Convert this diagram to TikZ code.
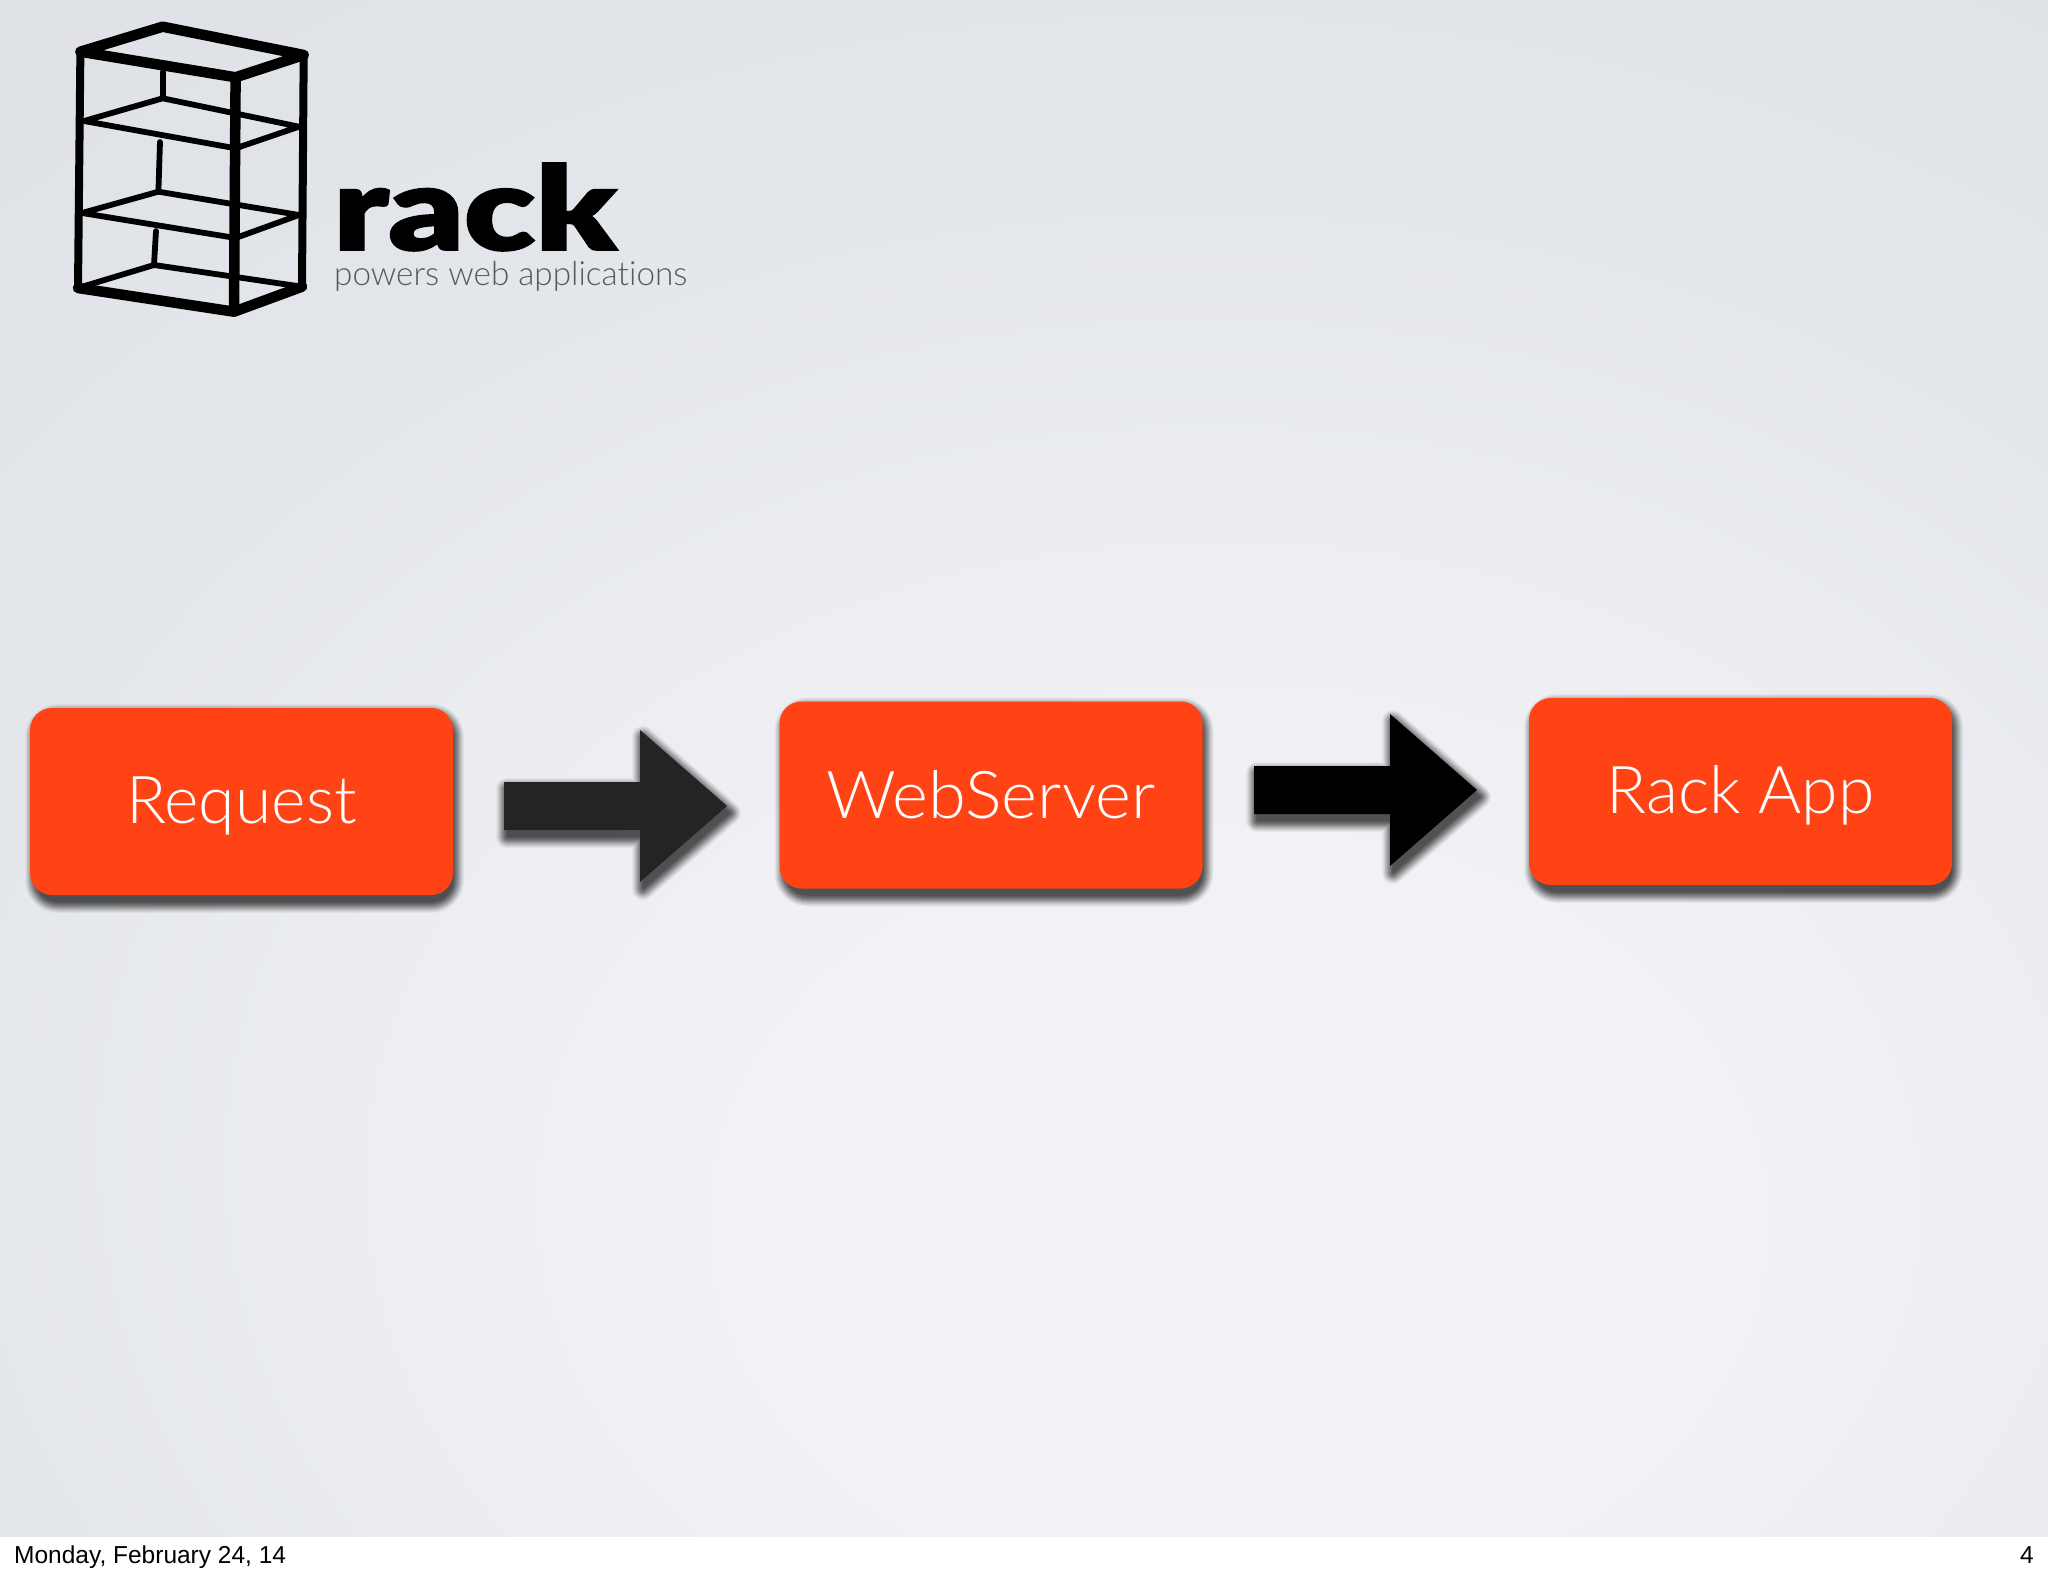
\documentclass[tikz,border=0pt]{standalone}
\usepackage{fontspec}
\setmainfont{Liberation Sans}
\newfontfamily\gillfont[Ligatures=NoCommon]{Lato Light}
\newfontfamily\rackfont[FakeBold=1.5]{Lato Black}
\newfontfamily\tagfont[Ligatures=NoCommon]{Lato Light}
\usetikzlibrary{calc}
\definecolor{boxorange}{HTML}{FF4314}
\definecolor{slidetext}{HTML}{55585C}
\pgfdeclareradialshading{slidebg}{\pgfpoint{6bp}{-17bp}}{
  rgb(0bp)=(.949,.953,.969);
  rgb(12bp)=(.945,.949,.965);
  rgb(22bp)=(.922,.929,.945);
  rgb(32bp)=(.890,.902,.918);
  rgb(44bp)=(.871,.882,.898);
  rgb(56bp)=(.847,.863,.878);
  rgb(100bp)=(.835,.851,.867)}
\tikzset{
  shadowlayer/.style={draw=black,fill=black,line join=round},
  stagebox/.style={fill=boxorange,rounded corners=22pt,minimum width=423pt,minimum height=187pt,
    text=white,font=\gillfont\fontsize{66}{66}\selectfont,inner sep=0pt},
  logothick/.style={draw=black,line width=10.5pt,line join=round,line cap=round},
  logothin/.style={draw=black,line width=5.8pt,line join=round,line cap=round},
  logomid/.style={draw=black,line width=8pt,line join=round,line cap=round},
  footer/.style={font=\fontsize{24.5}{26}\selectfont,text=black,inner sep=0pt}
}
\newcommand{\boxlabel}[3]{\smash{\raisebox{-#1pt}{\scalebox{#2}[1]{#3}}}}
\newcommand{\arrowoutline}{(0,-24) -- (136,-24) -- (136,-76) -- (223,0) -- (136,76) -- (136,24) -- (0,24) -- cycle}
\newcommand{\boxoutline}{(-208.5,-93.5) rectangle (208.5,93.5)}
\newcommand{\softlayers}[3]{%
  \foreach \w/\o in {22/.04,20/.05,18/.06,16/.07,14/.08,12/.09,10/.10,8/.10,6/.10,4/.10,2/.10,0.1/.10}{%
    \begin{scope}[transparency group,opacity=\o]
    \filldraw[shadowlayer,line width=\w pt,shift={(#1)},xshift=3pt,yshift=-7pt,#2] #3;
    \end{scope}}}
\newcommand{\boxshadow}[1]{\softlayers{#1}{rounded corners=22pt}{\boxoutline}}
\newcommand{\drawblockarrow}[2]{%
  \softlayers{#1}{}{\arrowoutline}
  \fill[#2,shift={(#1)}] \arrowoutline;}
\begin{document}
\begin{tikzpicture}[x=1pt,y=-1pt]
\useasboundingbox (0,0) rectangle (2048,1576);
\fill[white] (0,0) rectangle (2048,1576);
\shade[shading=slidebg] (0,0) rectangle (2048,1536);
% logo
\draw[logothick] (80.4,51.7) -- (162.7,26.7) -- (303.7,55) -- (235.6,77.3) -- cycle;
\draw[logomid] (80.4,51.7) -- (78,288);
\draw[logomid] (303.7,55) -- (302,286.7);
\draw[logothick] (235.6,77.3) -- (234,311.7);
\draw[logothick] (78,288) -- (234,311.7) -- (302,286.7);
\draw[logothin] (84,121) -- (162.7,98.3) -- (299,126.7) -- (235.6,148.3) -- cycle;
\draw[logothin] (82,213) -- (158.4,191.7) -- (299,215) -- (235.6,238) -- cycle;
\draw[logothin] (78,288) -- (154,265) -- (302,286.7);
\draw[logothin] (162.7,72) -- (162.7,98.3);
\draw[logothin] (160,142) -- (158.4,191.7);
\draw[logothin] (156,231) -- (154,265);
\node[anchor=base west,inner sep=0pt] (racklabel) at (333,250) {\resizebox{283pt}{87pt}{\rackfont rack}};
\node[anchor=base west,inner sep=0pt,text=slidetext] (taglabel) at (334,285) {\resizebox{353pt}{!}{\tagfont powers web applications}};
% boxes
\boxshadow{241.5,801.5}
\boxshadow{991,795}
\boxshadow{1740.5,791.5}
\node[stagebox] (request) at (241.5,801.5) {\boxlabel{21.5}{1}{Request}};
\node[stagebox] (webserver) at (991,795) {\boxlabel{23}{1.04}{WebServer}};
\node[stagebox] (rackapp) at (1740.5,791.5) {\boxlabel{21.5}{1}{Rack App}};
% arrows
\coordinate (arrowa) at (504,806);
\coordinate (arrowb) at (1254,790);
\drawblockarrow{arrowa}{black!86}
\drawblockarrow{arrowb}{black}
% footer
\node[footer,anchor=base west] (datelabel) at (14,1563.5) {Monday, February 24, 14};
\node[footer,anchor=base east] (pagelabel) at (2034,1563.5) {4};
\end{tikzpicture}
\end{document}
